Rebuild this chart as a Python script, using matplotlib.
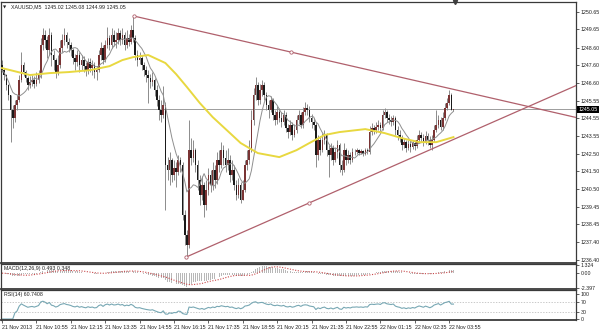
import numpy as np
import pandas as pd
import matplotlib
matplotlib.use('Agg')
import matplotlib.pyplot as plt
from matplotlib.transforms import blended_transform_factory

plt.rcParams['font.family'] = ['Liberation Sans', 'DejaVu Sans']

# ---- data (XAUUSD M5) ----
symbol = 'XAUUSD,M5'
first_open = 1247.60
closes = [
    1247.31, 1247.03, 1246.45, 1245.88, 1245.01, 1244.55, 1245.30, 1245.59, 1246.74, 1247.60,
    1247.20, 1246.85, 1246.45, 1246.62, 1246.74, 1246.51, 1246.74, 1247.03, 1248.75, 1249.33,
    1249.04, 1248.46, 1249.33, 1248.18, 1247.89, 1247.20, 1247.60, 1248.58, 1249.04, 1249.33,
    1248.92, 1248.75, 1248.46, 1248.00, 1247.77, 1248.18, 1247.60, 1247.89, 1247.54, 1247.31,
    1247.77, 1247.43, 1247.60, 1247.20, 1247.31, 1248.18, 1248.58, 1247.89, 1248.75, 1249.15,
    1248.75, 1249.33, 1248.92, 1249.04, 1249.44, 1249.04, 1249.33, 1248.75, 1249.15, 1248.92,
    1249.61, 1249.15, 1248.18, 1247.89, 1248.00, 1247.60, 1247.31, 1247.03, 1246.85, 1246.62,
    1246.74, 1246.16, 1245.59, 1245.01, 1244.73, 1245.30, 1241.85, 1241.56, 1242.14, 1241.28,
    1241.68, 1241.45, 1242.14, 1241.85, 1238.98, 1237.83, 1237.25, 1242.71, 1242.25, 1242.71,
    1241.85, 1240.99, 1240.13, 1240.70, 1239.55, 1240.41, 1241.28, 1240.70, 1241.56, 1240.99,
    1242.14, 1241.85, 1242.71, 1242.25, 1241.85, 1242.14, 1241.28, 1241.56, 1240.70, 1240.13,
    1240.70, 1239.84, 1240.41, 1241.85, 1242.14, 1242.71, 1244.44, 1245.88, 1246.45, 1245.59,
    1246.16, 1246.45, 1245.88, 1245.30, 1245.01, 1245.59, 1244.73, 1244.44, 1244.90, 1244.55,
    1244.32, 1244.73, 1243.98, 1243.75, 1244.15, 1243.58, 1243.86, 1244.44, 1244.73, 1244.15,
    1244.90, 1245.13, 1245.01, 1244.55, 1244.32, 1244.15, 1242.43, 1243.29, 1242.71, 1243.29,
    1243.58, 1242.71, 1242.43, 1242.83, 1242.14, 1242.60, 1243.00, 1241.85, 1241.56, 1242.71,
    1242.14, 1242.43, 1242.14, 1242.60, 1242.60, 1242.71, 1242.54, 1242.66, 1242.48, 1242.71,
    1242.60, 1243.75, 1243.98, 1243.86, 1244.04, 1244.15, 1243.98, 1244.73, 1244.90, 1244.55,
    1244.44, 1244.32, 1244.55, 1243.86, 1243.58, 1243.40, 1243.00, 1243.17, 1242.83, 1243.06,
    1242.89, 1243.12, 1242.94, 1243.29, 1243.58, 1243.40, 1243.17, 1243.52, 1243.29, 1243.00,
    1243.29, 1243.86, 1244.15, 1244.44, 1244.04, 1244.55, 1245.13, 1245.42, 1245.88, 1245.02,
    1245.05]
highs = [
    1247.89, 1247.43, 1247.08, 1246.51, 1245.88, 1245.30, 1245.59, 1245.88, 1247.03, 1248.35,
    1247.77, 1247.31, 1246.97, 1246.97, 1247.03, 1246.97, 1247.20, 1247.31, 1249.15, 1249.73,
    1249.61, 1249.27, 1249.73, 1249.50, 1248.46, 1248.00, 1248.18, 1249.04, 1249.38, 1249.73,
    1249.50, 1249.15, 1248.92, 1248.58, 1248.23, 1248.46, 1248.35, 1248.18, 1248.12, 1247.77,
    1248.00, 1248.00, 1247.89, 1247.77, 1247.54, 1248.46, 1248.92, 1248.75, 1249.04, 1249.79,
    1249.33, 1249.73, 1249.61, 1249.50, 1249.73, 1249.61, 1249.73, 1249.50, 1249.61, 1249.38,
    1249.90, 1250.42, 1249.33, 1248.46, 1248.35, 1248.18, 1247.77, 1247.54, 1247.31, 1247.08,
    1247.20, 1246.85, 1246.45, 1245.88, 1245.59, 1246.39, 1245.47, 1242.31, 1242.60, 1242.25,
    1242.14, 1242.02, 1242.43, 1242.31, 1242.02, 1239.26, 1238.11, 1244.44, 1243.40, 1243.29,
    1242.83, 1242.14, 1241.28, 1241.22, 1240.87, 1240.99, 1241.68, 1241.56, 1242.02, 1241.85,
    1242.60, 1242.71, 1243.17, 1243.00, 1242.71, 1242.83, 1242.43, 1242.14, 1241.85, 1240.99,
    1241.10, 1240.87, 1240.99, 1242.14, 1242.71, 1243.29, 1245.01, 1246.28, 1246.91, 1246.62,
    1246.51, 1246.74, 1246.62, 1246.05, 1245.59, 1245.82, 1245.70, 1245.01, 1245.24, 1245.13,
    1244.90, 1245.01, 1244.90, 1244.21, 1244.44, 1244.32, 1244.21, 1244.73, 1245.01, 1244.90,
    1245.19, 1245.47, 1245.36, 1245.24, 1244.78, 1244.55, 1244.32, 1243.58, 1243.52, 1243.69,
    1243.86, 1243.69, 1243.00, 1243.12, 1243.00, 1242.89, 1243.29, 1243.12, 1242.14, 1243.12,
    1242.83, 1242.71, 1242.60, 1242.83, 1242.77, 1242.83, 1242.77, 1242.77, 1242.71, 1242.83,
    1242.83, 1244.09, 1244.27, 1244.15, 1244.32, 1244.44, 1244.32, 1245.01, 1245.13, 1245.01,
    1244.78, 1244.67, 1244.73, 1244.67, 1244.09, 1243.86, 1243.58, 1243.40, 1243.29, 1243.29,
    1243.23, 1243.29, 1243.29, 1243.58, 1243.86, 1243.75, 1243.63, 1243.81, 1243.69, 1243.52,
    1243.58, 1244.15, 1245.01, 1244.73, 1244.61, 1244.90, 1245.42, 1245.70, 1246.16, 1245.99,
    1245.08]
lows = [
    1247.20, 1246.74, 1246.16, 1245.59, 1243.17, 1243.98, 1244.32, 1245.01, 1245.47, 1246.62,
    1246.97, 1246.62, 1246.16, 1246.28, 1246.39, 1246.28, 1246.39, 1246.57, 1246.85, 1248.46,
    1248.58, 1248.00, 1248.18, 1247.54, 1247.31, 1246.85, 1247.03, 1247.43, 1248.35, 1248.75,
    1248.58, 1248.35, 1248.12, 1247.66, 1247.31, 1247.54, 1247.20, 1247.31, 1247.20, 1246.97,
    1247.08, 1247.20, 1247.03, 1246.85, 1246.74, 1247.20, 1247.89, 1247.66, 1247.77, 1248.58,
    1248.46, 1248.58, 1248.69, 1248.58, 1248.81, 1248.75, 1248.81, 1248.46, 1248.58, 1248.69,
    1248.81, 1248.92, 1247.89, 1247.54, 1247.66, 1247.31, 1246.97, 1246.62, 1245.42, 1246.28,
    1246.39, 1245.82, 1245.24, 1244.44, 1244.32, 1244.55, 1239.26, 1240.99, 1240.70, 1240.87,
    1240.99, 1240.59, 1241.28, 1241.45, 1238.69, 1237.25, 1236.56, 1237.08, 1241.85, 1242.02,
    1241.45, 1240.41, 1239.55, 1239.84, 1238.86, 1239.26, 1240.13, 1240.30, 1240.41, 1240.53,
    1240.76, 1241.45, 1241.68, 1241.85, 1241.45, 1241.56, 1240.87, 1240.99, 1240.41, 1239.84,
    1239.95, 1239.67, 1239.95, 1240.30, 1241.56, 1241.91, 1242.60, 1244.15, 1245.59, 1245.30,
    1245.36, 1245.82, 1245.59, 1245.01, 1244.55, 1244.90, 1244.44, 1244.15, 1244.21, 1244.32,
    1244.04, 1244.15, 1243.75, 1243.40, 1243.58, 1243.29, 1243.46, 1243.69, 1244.21, 1243.98,
    1243.98, 1244.73, 1244.73, 1244.32, 1243.98, 1243.86, 1241.74, 1242.14, 1242.43, 1242.60,
    1243.06, 1242.37, 1241.16, 1242.14, 1241.85, 1242.02, 1242.25, 1241.45, 1241.28, 1241.45,
    1241.85, 1241.97, 1241.91, 1242.02, 1242.43, 1242.48, 1242.43, 1242.48, 1242.37, 1242.43,
    1242.48, 1242.48, 1243.58, 1243.63, 1243.69, 1243.86, 1243.75, 1243.86, 1244.55, 1244.32,
    1244.21, 1244.09, 1244.15, 1243.58, 1243.29, 1243.17, 1242.71, 1242.83, 1242.60, 1242.71,
    1242.60, 1242.77, 1242.71, 1242.83, 1243.12, 1243.17, 1242.94, 1243.06, 1243.00, 1242.83,
    1242.71, 1243.17, 1243.75, 1243.98, 1243.86, 1243.86, 1244.44, 1245.01, 1245.30, 1245.00,
    1244.99]

# slow moving average (yellow), read at a few bars
slow_ma_bars = [0, 13, 22, 31, 41, 50, 56, 61, 68, 76, 81, 86, 92, 98, 107, 111, 119, 129,
                137, 143, 150, 157, 169, 178, 186, 194, 202, 210]
slow_ma_vals = [1247.43, 1247.03, 1247.14, 1247.20, 1247.31, 1247.54, 1247.89, 1248.06, 1248.18,
                1247.72, 1247.08, 1246.34, 1245.42, 1244.61, 1243.58, 1243.12, 1242.54, 1242.31,
                1242.71, 1243.12, 1243.58, 1243.75, 1243.92, 1243.69, 1243.40, 1243.17, 1243.17,
                1243.46]

# trend lines: (bar, price) anchor pairs
trend_lines = [((61.4, 1250.42), (134.4, 1248.35)),
               ((85.6, 1236.56), (142.8, 1239.67))]

price_ticks = [1250.65, 1249.65, 1248.60, 1247.60, 1246.60, 1245.55, 1244.55, 1243.55,
               1242.50, 1241.50, 1240.50, 1239.45, 1238.45, 1237.40, 1236.40]
macd_ticks = [1.324, 0.0, -2.397]
macd_tick_labels = ['1.324', '0.00', '-2.397']
rsi_ticks = [100, 70, 30, 0]
time_tick_bars = [0, 16, 32, 48, 64, 80, 96, 112, 128, 144, 160, 176, 192, 208]
time_labels = ['21 Nov 2013', '21 Nov 10:55', '21 Nov 12:15', '21 Nov 13:35', '21 Nov 14:55',
               '21 Nov 16:15', '21 Nov 17:35', '21 Nov 18:55', '21 Nov 20:15', '21 Nov 21:35',
               '21 Nov 22:55', '22 Nov 01:15', '22 Nov 02:35', '22 Nov 03:55']
header = '1245.02 1245.08 1244.99 1245.05'

# ---- series ----
c = np.array(closes)
o = np.concatenate([[first_open], c[:-1]])
h = np.maximum(np.array(highs), np.maximum(o, c))
l = np.minimum(np.array(lows), np.minimum(o, c))
idx = np.arange(len(c))
cs = pd.Series(c)
fast_ma = cs.rolling(8, min_periods=1).mean()
macd = cs.ewm(span=12, adjust=False).mean() - cs.ewm(span=26, adjust=False).mean()
signal = macd.rolling(9, min_periods=1).mean()
d = cs.diff().fillna(0)
gain = d.clip(lower=0).ewm(alpha=1 / 14, adjust=False).mean()
loss = (-d).clip(lower=0).ewm(alpha=1 / 14, adjust=False).mean()
rsi = 100 - 100 / (1 + gain / loss.replace(0, 1e-9))

# ---- layout ----
W, H = 601, 333
fig = plt.figure(figsize=(W / 100, H / 100), dpi=100)
fig.patch.set_facecolor('white')


def box(x0, y0, x1, y1):
    return [x0 / W, 1 - y1 / H, (x1 - x0) / W, (y1 - y0) / H]


ax = fig.add_axes(box(1, 2, 576, 263))
axm = fig.add_axes(box(1, 264, 576, 289), sharex=ax)
axr = fig.add_axes(box(1, 290, 576, 320), sharex=ax)

txt = '#202020'
fs = 3.8
ax.set_xlim(-0.47, 267)
ax.set_ylim(1236.22, 1251.23)

# candles
up = c >= o
ax.vlines(idx, l, h, color='#8c8c8c', lw=0.7, zorder=2)
body = np.maximum(np.abs(c - o), 0.02)
ax.bar(idx[up], body[up], bottom=o[up], width=0.75, color='#7a3434', lw=0, zorder=3)
ax.bar(idx[~up], body[~up], bottom=c[~up], width=0.75, color='#1a1a1a', lw=0, zorder=3)

ax.plot(idx, fast_ma, color='#8f8f8f', lw=0.7, zorder=4)
ax.plot(slow_ma_bars, slow_ma_vals, color='#e8d840', lw=1.4, zorder=4)
ax.axhline(closes[-1], color='#9c9c9c', lw=0.7, zorder=1)

x_end = ax.get_xlim()[1]
for (b0, p0), (b1, p1) in trend_lines:
    k = (p1 - p0) / (b1 - b0)
    ax.plot([b0, x_end], [p0, p0 + k * (x_end - b0)], color='#b0606c', lw=0.9, zorder=5)
    ax.plot([b0, b1], [p0, p1], 'o', ms=2.4, mfc='white', mec='#b0606c', mew=0.6, zorder=6)

ax.yaxis.tick_right()
ax.set_yticks(price_ticks)
ax.set_yticklabels(['%.2f' % v for v in price_ticks])
ax.tick_params(axis='y', length=2, width=0.5, labelsize=fs, pad=1.2, colors=txt)
ax.tick_params(axis='x', bottom=False, labelbottom=False)
tr = blended_transform_factory(ax.transAxes, ax.transData)
ax.text(1.004, closes[-1], '%.2f' % closes[-1], transform=tr, ha='left', va='center',
        fontsize=fs, color='white',
        bbox=dict(boxstyle='square,pad=0.2', fc='black', ec='none'))
ax.text(0.004, 0.988, '\u25bc', transform=ax.transAxes, va='top', fontsize=3, color=txt,
        family=['DejaVu Sans'])
ax.text(0.017, 0.99, symbol + '  ' + header, transform=ax.transAxes, va='top',
        fontsize=fs, color=txt)
ax.plot([len(c) - 0.3], [1.0], marker='v', ms=3, color='#404040',
        transform=blended_transform_factory(ax.transData, ax.transAxes), clip_on=False)

# MACD
axm.bar(idx, macd, width=0.45, color='#b8b8b8', lw=0)
axm.plot(idx, signal, color='#c8484a', lw=0.8, ls=(0, (1, 1.4)))
axm.set_ylim(-2.6, 1.5)
axm.yaxis.tick_right()
axm.set_yticks(macd_ticks)
axm.set_yticklabels(macd_tick_labels)
axm.tick_params(axis='y', length=2, width=0.5, labelsize=fs, pad=1.2, colors=txt)
axm.tick_params(axis='x', bottom=False, labelbottom=False)
axm.text(0.006, 0.93, 'MACD(12,26,9) %.3f %.3f' % (0.493, 0.348), transform=axm.transAxes,
         va='top', fontsize=fs, color=txt)

# RSI
for lev in (70, 30):
    axr.axhline(lev, color='#b4b4b4', lw=0.5, ls=(0, (2, 2)))
axr.plot(idx, rsi, color='#78a8b4', lw=0.8)
axr.set_ylim(-4, 116)
axr.yaxis.tick_right()
axr.set_yticks(rsi_ticks)
axr.set_yticklabels([str(v) for v in rsi_ticks])
axr.tick_params(axis='y', length=2, width=0.5, labelsize=fs, pad=1.2, colors=txt)
axr.set_xticks(time_tick_bars)
axr.set_xticklabels(time_labels, ha='left')
axr.tick_params(axis='x', length=2, width=0.5, labelsize=fs, pad=1.5, colors=txt)
axr.text(0.006, 0.93, 'RSI(14) 60.7408', transform=axr.transAxes, va='top',
         fontsize=fs, color=txt)

for a in (ax, axm, axr):
    a.set_facecolor('white')
    for s in a.spines.values():
        s.set_color('#3a3a3a')
        s.set_linewidth(0.9)
    a.spines['bottom'].set_linewidth(1.3)

fig.savefig('out.png', dpi=100, facecolor='white')
